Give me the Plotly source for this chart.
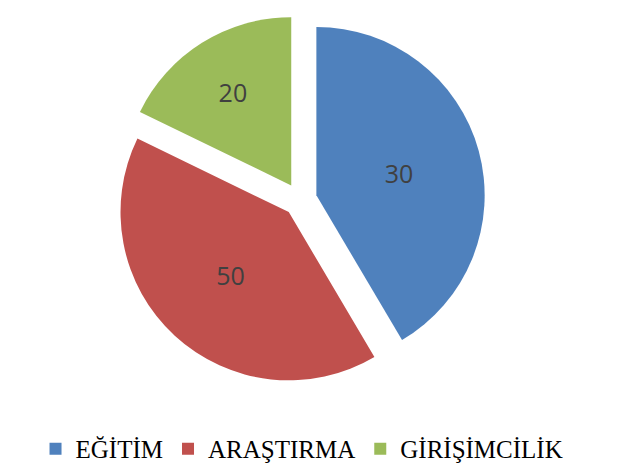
import plotly.graph_objects as go

categories = ['EĞİTİM', 'ARAŞTIRMA', 'GİRİŞİMCİLİK']
# slice sizes as drawn in the picture (share of the circle, %)
shares = [41.5, 40.7, 17.8]
# numbers printed on the slices
shown = ['30', '50', '20']
colors = ['#4F81BD', '#C0504D', '#9BBB59']

pie = go.Pie(
    labels=categories,
    values=shares,
    text=shown,
    texttemplate='%{text}',
    textposition='inside',
    insidetextorientation='horizontal',
    insidetextfont=dict(family='Open Sans', size=25, color='#404040'),
    marker=dict(colors=colors, line=dict(width=0)),
    pull=[0.1, 0.1, 0.1],
    sort=False,
    direction='clockwise',
    rotation=0,
    hoverinfo='label+text',
    domain=dict(x=[0.173, 0.771], y=[0.200, 0.986]),
)

layout = go.Layout(
    width=619,
    height=471,
    margin=dict(l=0, r=0, t=0, b=0),
    paper_bgcolor='white',
    plot_bgcolor='white',
    showlegend=True,
    legend=dict(
        orientation='h',
        x=0.475,
        xanchor='center',
        y=0.015,
        yanchor='bottom',
        itemwidth=30,
        font=dict(family='Liberation Serif', size=25, color='black'),
    ),
)

fig = go.Figure(data=[pie], layout=layout)
fig.write_html('out.html')
